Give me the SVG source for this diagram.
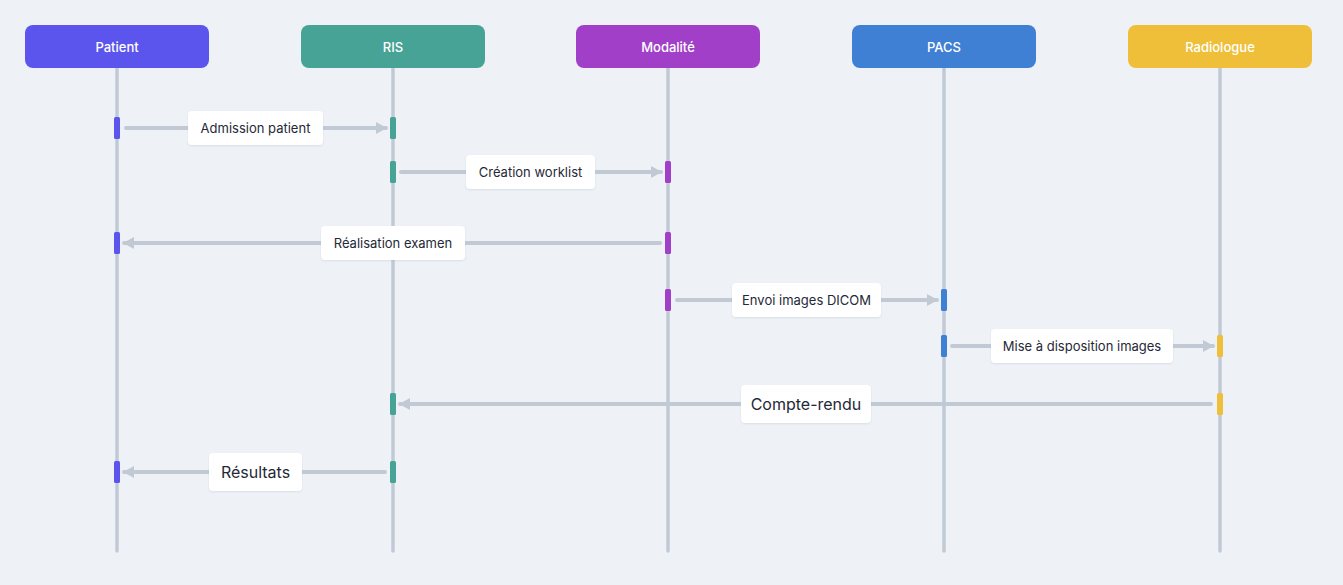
<svg xmlns="http://www.w3.org/2000/svg" width="1343" height="585" viewBox="0 0 1343 585">
<style>
.hd{font-family:Inter,"Noto Sans",sans-serif;font-size:13px;font-weight:500;fill:#ffffff;text-anchor:middle;dominant-baseline:central}
.life{stroke:#c1cad4;stroke-width:3.5;stroke-linecap:round}
.msg{stroke:#c1cad4;stroke-width:4;stroke-linecap:round;fill:none}
.lb{fill:#ffffff;filter:url(#sh)}
.lt{font-family:Inter,"Noto Sans",sans-serif;font-size:13px;fill:#1f2937;text-anchor:middle;dominant-baseline:central}
.lt2{font-family:Inter,"Noto Sans",sans-serif;font-size:16px;fill:#1f2937;text-anchor:middle;dominant-baseline:central}
</style>
<defs>
<marker id="ar" markerUnits="userSpaceOnUse" markerWidth="12" markerHeight="14" refX="10" refY="7" orient="auto">
<path d="M0,1 L11,7 L0,13 Z" fill="#c1cad4"/>
</marker>
<filter id="sh" x="-10%" y="-20%" width="120%" height="150%">
<feDropShadow dx="0" dy="1" stdDeviation="1" flood-color="#94a3b8" flood-opacity="0.25"/>
</filter>
</defs>
<rect width="1343" height="585" fill="#eef2f6"/>
<g id="lifelines">
<line class="life" x1="117" y1="68" x2="117" y2="551"/>
<line class="life" x1="393" y1="68" x2="393" y2="551"/>
<line class="life" x1="668" y1="68" x2="668" y2="551"/>
<line class="life" x1="944" y1="68" x2="944" y2="551"/>
<line class="life" x1="1220" y1="68" x2="1220" y2="551"/>
</g>
<g id="node-patient">
<rect x="25" y="25" width="184" height="43" rx="8" fill="#5b55ee"/>
<text class="hd" x="117" y="47">Patient</text>
</g>
<g id="node-ris">
<rect x="301" y="25" width="184" height="43" rx="8" fill="#47a395"/>
<text class="hd" x="393" y="47">RIS</text>
</g>
<g id="node-modalite">
<rect x="576" y="25" width="184" height="43" rx="8" fill="#a23fc9"/>
<text class="hd" x="668" y="47">Modalité</text>
</g>
<g id="node-pacs">
<rect x="852" y="25" width="184" height="43" rx="8" fill="#3f7fd4"/>
<text class="hd" x="944" y="47">PACS</text>
</g>
<g id="node-radiologue">
<rect x="1128" y="25" width="184" height="43" rx="8" fill="#efbf3a"/>
<text class="hd" x="1220" y="47">Radiologue</text>
</g>
<g id="activations">
<rect x="114" y="117" width="6" height="22" rx="1.5" fill="#5b55ee"/>
<rect x="390" y="117" width="6" height="22" rx="1.5" fill="#47a395"/>
<rect x="390" y="161" width="6" height="22" rx="1.5" fill="#47a395"/>
<rect x="665" y="161" width="6" height="22" rx="1.5" fill="#a23fc9"/>
<rect x="665" y="232" width="6" height="22" rx="1.5" fill="#a23fc9"/>
<rect x="114" y="232" width="6" height="22" rx="1.5" fill="#5b55ee"/>
<rect x="665" y="289" width="6" height="22" rx="1.5" fill="#a23fc9"/>
<rect x="941" y="289" width="6" height="22" rx="1.5" fill="#3f7fd4"/>
<rect x="941" y="335" width="6" height="22" rx="1.5" fill="#3f7fd4"/>
<rect x="1217" y="335" width="6" height="22" rx="1.5" fill="#efbf3a"/>
<rect x="1217" y="393" width="6" height="22" rx="1.5" fill="#efbf3a"/>
<rect x="390" y="393" width="6" height="22" rx="1.5" fill="#47a395"/>
<rect x="390" y="461" width="6" height="22" rx="1.5" fill="#47a395"/>
<rect x="114" y="461" width="6" height="22" rx="1.5" fill="#5b55ee"/>
</g>
<g id="connectors">
<line class="msg" x1="126" y1="128" x2="386" y2="128" marker-end="url(#ar)"/>
<line class="msg" x1="401" y1="172" x2="661" y2="172" marker-end="url(#ar)"/>
<line class="msg" x1="660" y1="243" x2="124" y2="243" marker-end="url(#ar)"/>
<line class="msg" x1="677" y1="300" x2="937" y2="300" marker-end="url(#ar)"/>
<line class="msg" x1="952" y1="346" x2="1213" y2="346" marker-end="url(#ar)"/>
<line class="msg" x1="1211" y1="404" x2="400" y2="404" marker-end="url(#ar)"/>
<line class="msg" x1="385" y1="472" x2="124" y2="472" marker-end="url(#ar)"/>
</g>
<g id="labels">
<rect class="lb" x="188" y="111" width="135" height="34" rx="4"/>
<text class="lt" x="255.5" y="128">Admission patient</text>
<rect class="lb" x="466" y="155" width="129" height="34" rx="4"/>
<text class="lt" x="530.5" y="172">Création worklist</text>
<rect class="lb" x="321" y="226" width="144" height="34" rx="4"/>
<text class="lt" x="393" y="243">Réalisation examen</text>
<rect class="lb" x="732" y="283" width="149" height="34" rx="4"/>
<text class="lt" x="806.5" y="300">Envoi images DICOM</text>
<rect class="lb" x="991" y="329" width="182" height="34" rx="4"/>
<text class="lt" x="1082" y="346">Mise à disposition images</text>
<rect class="lb" x="741" y="385" width="130" height="38" rx="4"/>
<text class="lt2" x="806" y="404">Compte-rendu</text>
<rect class="lb" x="209" y="453" width="93" height="38" rx="4"/>
<text class="lt2" x="255.5" y="472">Résultats</text>
</g>
</svg>
